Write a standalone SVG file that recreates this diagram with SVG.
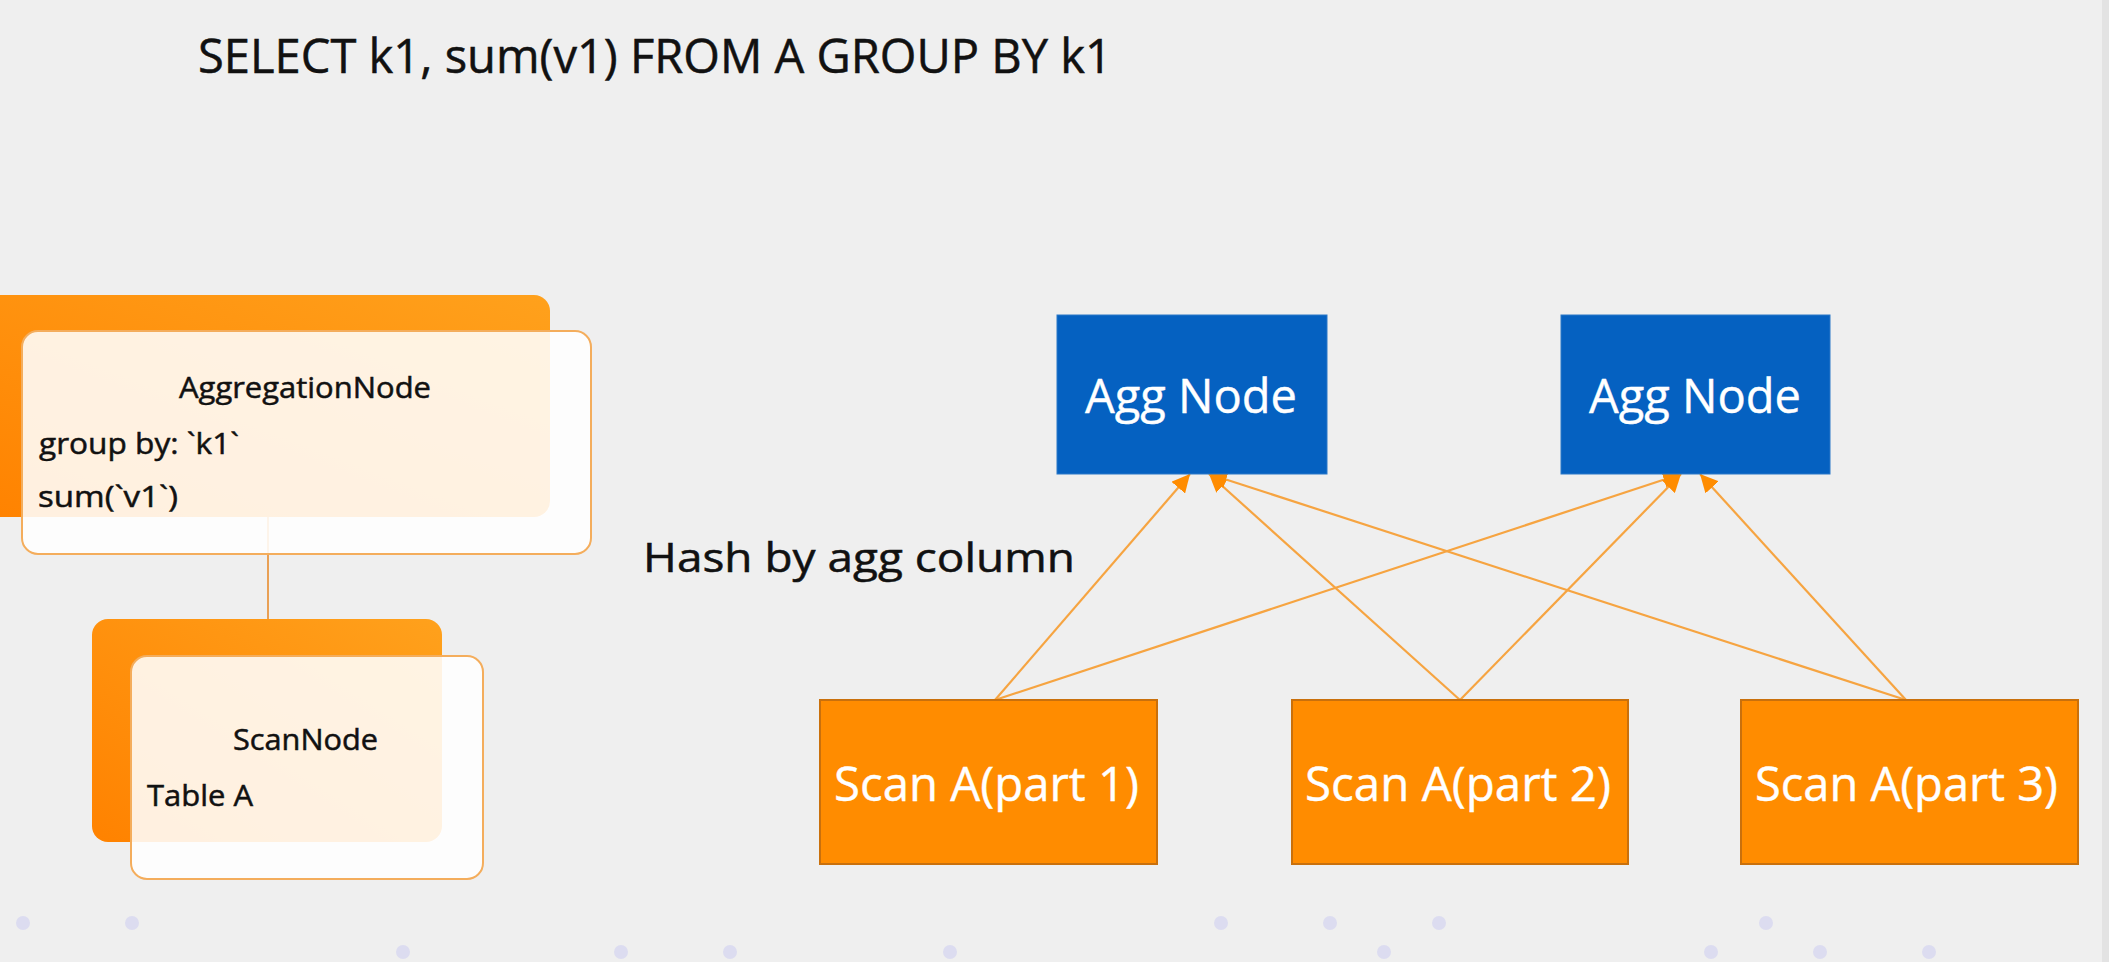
<svg xmlns="http://www.w3.org/2000/svg" width="2109" height="962" viewBox="0 0 2109 962">
<defs>
<style>
.t{font-family:"Open Sans","Liberation Sans",sans-serif;fill:#111;stroke:#111;stroke-width:0.5}
.w{font-family:"Open Sans","Liberation Sans",sans-serif;fill:#fff;stroke:#fff;stroke-width:0.4}
.back{fill:url(#og)}
.front{fill:#fff;fill-opacity:0.88;stroke:#f4ad5c;stroke-width:2}
.agg{fill:#0561c1;stroke:#2a78c8;stroke-width:1}
.scan{fill:#ff8c00;stroke:#c9700c;stroke-width:2}
.edge{stroke:#f6a441;stroke-width:2.2;fill:none}
.dot{fill:#dcdcf0}
</style>
<linearGradient id="og" x1="1" y1="0" x2="0" y2="1">
<stop offset="0" stop-color="#ffa11c"/>
<stop offset="1" stop-color="#ff8200"/>
</linearGradient>
<marker id="ah" viewBox="0 0 10 10" refX="10" refY="5" markerWidth="18" markerHeight="18" markerUnits="userSpaceOnUse" orient="auto">
<path d="M0,0 L10,5 L0,10 z" fill="#ff8c00"/>
</marker>
</defs>
<rect x="0" y="0" width="2109" height="962" fill="#efefef"/>
<rect x="2102" y="0" width="7" height="962" fill="#e3e3e3"/>

<g id="bgdots">
<circle class="dot" cx="23" cy="923" r="7"/>
<circle class="dot" cx="132" cy="923" r="7"/>
<circle class="dot" cx="1221" cy="923" r="7"/>
<circle class="dot" cx="1330" cy="923" r="7"/>
<circle class="dot" cx="1439" cy="923" r="7"/>
<circle class="dot" cx="1766" cy="923" r="7"/>
<circle class="dot" cx="403" cy="952" r="7"/>
<circle class="dot" cx="621" cy="952" r="7"/>
<circle class="dot" cx="730" cy="952" r="7"/>
<circle class="dot" cx="950" cy="952" r="7"/>
<circle class="dot" cx="1384" cy="952" r="7"/>
<circle class="dot" cx="1711" cy="952" r="7"/>
<circle class="dot" cx="1820" cy="952" r="7"/>
<circle class="dot" cx="1929" cy="952" r="7"/>
</g>

<text id="title" class="t" x="198" y="73" font-size="47" textLength="914" lengthAdjust="spacingAndGlyphs">SELECT k1, sum(v1) FROM A GROUP BY k1</text>

<g id="connectors">
<line x1="268" y1="517" x2="268" y2="619" stroke="#e9a055" stroke-width="2"/>
<line class="edge" x1="995" y1="700" x2="1190" y2="474" marker-end="url(#ah)"/>
<line class="edge" x1="995" y1="700" x2="1681" y2="474" marker-end="url(#ah)"/>
<line class="edge" x1="1460" y1="700" x2="1209" y2="474" marker-end="url(#ah)"/>
<line class="edge" x1="1460" y1="700" x2="1681" y2="474" marker-end="url(#ah)"/>
<line class="edge" x1="1906" y1="700" x2="1209" y2="474" marker-end="url(#ah)"/>
<line class="edge" x1="1906" y1="700" x2="1700" y2="474" marker-end="url(#ah)"/>
</g>

<g id="aggregationNode">
<rect class="back" x="-30" y="295" width="580" height="222" rx="16"/>
<rect class="front" x="22" y="331" width="569" height="223" rx="16"/>
<text class="t" x="179" y="398" font-size="29" textLength="252" lengthAdjust="spacingAndGlyphs">AggregationNode</text>
<text class="t" x="39" y="454" font-size="29" textLength="200" lengthAdjust="spacingAndGlyphs">group by: `k1`</text>
<text class="t" x="38" y="507" font-size="29" textLength="140" lengthAdjust="spacingAndGlyphs">sum(`v1`)</text>
</g>

<g id="scanNode">
<rect class="back" x="92" y="619" width="350" height="223" rx="16"/>
<rect class="front" x="131" y="656" width="352" height="223" rx="16"/>
<text class="t" x="233" y="750" font-size="29" textLength="145" lengthAdjust="spacingAndGlyphs">ScanNode</text>
<text class="t" x="147" y="806" font-size="29" textLength="106" lengthAdjust="spacingAndGlyphs">Table A</text>
</g>

<text id="hashLabel" class="t" x="643" y="572" font-size="40" textLength="432" lengthAdjust="spacingAndGlyphs">Hash by agg column</text>

<g id="agg1">
<rect class="agg" x="1057" y="315" width="270" height="159"/>
<text class="w" x="1085" y="413" font-size="48" textLength="212" lengthAdjust="spacingAndGlyphs">Agg Node</text>
</g>
<g id="agg2">
<rect class="agg" x="1561" y="315" width="269" height="159"/>
<text class="w" x="1589" y="413" font-size="48" textLength="212" lengthAdjust="spacingAndGlyphs">Agg Node</text>
</g>

<g id="scan1">
<rect class="scan" x="820" y="700" width="337" height="164"/>
<text class="w" x="834" y="801" font-size="47" textLength="305" lengthAdjust="spacingAndGlyphs">Scan A(part 1)</text>
</g>
<g id="scan2">
<rect class="scan" x="1292" y="700" width="336" height="164"/>
<text class="w" x="1305" y="801" font-size="47" textLength="306" lengthAdjust="spacingAndGlyphs">Scan A(part 2)</text>
</g>
<g id="scan3">
<rect class="scan" x="1741" y="700" width="337" height="164"/>
<text class="w" x="1755" y="801" font-size="47" textLength="303" lengthAdjust="spacingAndGlyphs">Scan A(part 3)</text>
</g>
</svg>
